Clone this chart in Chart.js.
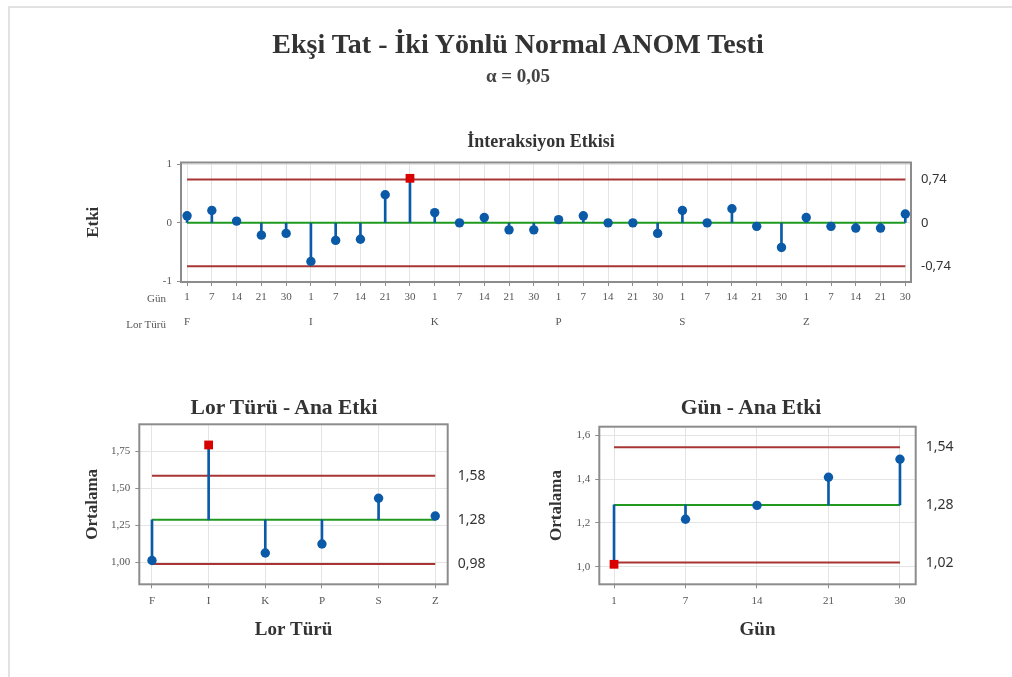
<!DOCTYPE html>
<html><head><meta charset="utf-8">
<script src="https://cdn.jsdelivr.net/npm/chart.js@4"></script>
<style>
html,body{margin:0;padding:0;background:#fff;}
#wrap{position:relative;width:1012px;height:677px;overflow:hidden;font-family:'Liberation Serif',serif;color:#333;}
canvas{position:absolute;left:0;top:0;}
.t{position:absolute;white-space:nowrap;transform:translate(-50%,-50%);line-height:1;}
.r{position:absolute;white-space:nowrap;transform:translate(-100%,-50%);line-height:1;}
#fTop{position:absolute;left:8px;top:6px;right:0;height:0;border-top:2px solid #e2e2e2;}
#fLeft{position:absolute;left:8px;top:6px;bottom:0;width:0;border-left:2px solid #e2e2e2;}
</style></head><body>
<div id="wrap">
<div id="fTop"></div><div id="fLeft"></div>
<canvas id="cInter" width="1012" height="677"></canvas>
<canvas id="cLor" width="1012" height="677"></canvas>
<canvas id="cDay" width="1012" height="677"></canvas>
<div class="t" style="left:518px;top:44px;font-size:28px;font-weight:bold;">Ekşi Tat - İki Yönlü Normal ANOM Testi</div>
<div class="t" style="left:518px;top:75px;font-size:19px;font-weight:bold;color:#444;">α = 0,05</div>
<div class="t" style="left:541px;top:141px;font-size:18px;font-weight:bold;">İnteraksiyon Etkisi</div>
<div class="t" style="left:284px;top:408px;font-size:21.5px;font-weight:bold;">Lor Türü - Ana Etki</div>
<div class="t" style="left:751px;top:408px;font-size:21.5px;font-weight:bold;">Gün - Ana Etki</div>
<div class="r" style="left:166px;top:298px;font-size:11px;color:#555;">Gün</div>
<div class="r" style="left:166px;top:324px;font-size:11px;color:#555;">Lor Türü</div>
</div>
<script>
// ---- data ----
const dayLabels = ['1', '7', '14', '21', '30'];
const lorLabels = ['F', 'I', 'K', 'P', 'S', 'Z'];

const interEffects = [
  0.12, 0.21, 0.03, -0.21, -0.18,
  -0.66, -0.30, -0.28, 0.48, 0.76,
  0.175, 0.00, 0.09, -0.12, -0.12,
  0.055, 0.12, 0.00, 0.00, -0.18,
  0.21, 0.00, 0.24, -0.06, -0.42,
  0.09, -0.06, -0.09, -0.09, 0.15
];
const interLimits = [-0.74, 0, 0.74];
const interLimitLabels = ['-0,74', '0', '0,74'];
const interYTicks = [-1, 0, 1];
const interYTickLabels = ['-1', '0', '1'];

const lorMeans = [1.01, 1.793, 1.061, 1.122, 1.432, 1.312];
const lorLimits = [0.987, 1.286, 1.585];
const lorLimitLabels = ['0,98', '1,28', '1,58'];
const lorYTicks = [1.00, 1.25, 1.50, 1.75];
const lorYTickLabels = ['1,00', '1,25', '1,50', '1,75'];

const dayMeans = [1.012, 1.217, 1.28, 1.408, 1.49];
const dayLimits = [1.02, 1.282, 1.544];
const dayLimitLabels = ['1,02', '1,28', '1,54'];
const dayYTicks = [1.0, 1.2, 1.4, 1.6];
const dayYTickLabels = ['1,0', '1,2', '1,4', '1,6'];

// ---- styles ----
const BLUE = '#0b5aa8', REDPT = '#d90000', LIMIT = '#a83434', GREEN = '#1f9a1f';
const FRAME = '#8c8c8c', GRID = '#e4e4e4';
const SERIF = "'Liberation Serif', serif";
const SANS = "'Noto Sans', sans-serif";
Chart.defaults.font.family = SERIF;
Chart.defaults.color = '#555';

const framePlugin = {
  id: 'frame',
  beforeDatasetsDraw(chart) {
    const {ctx, chartArea: a} = chart;
    ctx.save();
    ctx.strokeStyle = FRAME; ctx.lineWidth = 2;
    ctx.strokeRect(a.left, a.top, a.right - a.left, a.bottom - a.top);
    ctx.restore();
  }
};

function anomDatasets(values, limits) {
  const [lcl, cl, ucl] = limits;
  const n = values.length;
  const isOut = v => v > ucl || v < lcl;
  const hline = (y, color, order) => ({
    type: 'line', data: [{x: 0, y: y}, {x: n - 1, y: y}],
    borderColor: color, borderWidth: 2, pointRadius: 0, order: order, clip: false
  });
  return [
    hline(ucl, LIMIT, 4), hline(lcl, LIMIT, 4), hline(cl, GREEN, 3),
    {type: 'bar', data: values.map((v, i) => ({x: i, y: [cl, v]})),
     backgroundColor: BLUE, barThickness: 2, borderWidth: 0, order: 2, grouped: false},
    {type: 'scatter', data: values.map((v, i) => ({x: i, y: v})), order: 0, clip: false,
     pointStyle: c => isOut(values[c.dataIndex]) ? 'rect' : 'circle',
     pointRadius: c => isOut(values[c.dataIndex]) ? 6.2 : 4.7,
     pointHoverRadius: c => isOut(values[c.dataIndex]) ? 6.2 : 4.7,
     backgroundColor: c => isOut(values[c.dataIndex]) ? REDPT : BLUE,
     borderWidth: 0}
  ];
}

function fixed(prop, v) { return s => { s[prop] = v; }; }

function yLeft(min, max, ticks, labels, title, width) {
  return {
    position: 'left', min: min, max: max,
    afterBuildTicks: s => { s.ticks = ticks.map(v => ({value: v})); },
    afterFit: fixed('width', width),
    ticks: {callback: (v, i) => labels[i], font: {size: 11}, padding: 5, color: '#555'},
    grid: {color: GRID, tickColor: FRAME, tickLength: 4},
    border: {display: false},
    title: {display: true, text: title, font: {size: 17, weight: 'bold', lineHeight: 1.2},
            color: '#333', padding: 0}
  };
}
function yRight(min, max, limits, labels, width, size) {
  return {
    position: 'right', min: min, max: max,
    afterBuildTicks: s => { s.ticks = limits.map(v => ({value: v})); },
    afterFit: fixed('width', width),
    ticks: {callback: (v, i) => labels[i], font: {family: SANS, size: size}, padding: 10, color: '#333'},
    grid: {drawOnChartArea: false, drawTicks: false},
    border: {display: false}
  };
}
function xAxis(min, max, count, labelFn, height, title, pad) {
  const cfg = {
    type: 'linear', position: 'bottom', min: min, max: max, offset: false,
    afterBuildTicks: s => { s.ticks = Array.from({length: count}, (_, i) => ({value: i})); },
    afterFit: fixed('height', height),
    ticks: {callback: (v, i) => labelFn(i), font: {size: 11}, padding: pad, color: '#555',
            autoSkip: false, maxRotation: 0, minRotation: 0},
    grid: {color: GRID, tickColor: FRAME, tickLength: 4, offset: false},
    border: {display: false}
  };
  if (title) cfg.title = {display: true, text: title, font: {size: 19, weight: 'bold', lineHeight: 1.2},
                          color: '#333', padding: 0};
  return cfg;
}
const baseOpts = {
  responsive: false, animation: false, events: [],
  plugins: {legend: {display: false}, tooltip: {enabled: false}, title: {display: false}}
};

// ---- Interaction chart ----
const nInter = interEffects.length;
const interX = xAxis(-0.245, 29.23, nInter, i => dayLabels[i % dayLabels.length], 28, null, 5);
interX.weight = 0;
const interX2 = {
  type: 'linear', position: 'bottom', min: -0.245, max: 29.23, weight: 1, offset: false,
  afterBuildTicks: s => { s.ticks = lorLabels.map((_, k) => ({value: k * dayLabels.length})); },
  afterFit: fixed('height', 30),
  ticks: {callback: (v, i) => lorLabels[i], font: {size: 11}, padding: 6, color: '#555',
          autoSkip: false, maxRotation: 0},
  grid: {display: false, drawTicks: false, offset: false}, border: {display: false}
};
new Chart(document.getElementById('cInter'), {
  type: 'scatter',
  data: {datasets: anomDatasets(interEffects, interLimits)},
  options: Object.assign({}, baseOpts, {
    layout: {padding: {left: 83.8, right: 41, top: 162.5, bottom: 337}},
    scales: {
      x: interX, x2: interX2,
      y: yLeft(-1.01, 1.03, interYTicks, interYTickLabels, 'Etki', 97.2),
      yR: yRight(-1.01, 1.03, interLimits, interLimitLabels, 60, 13)
    }
  }),
  plugins: [framePlugin]
});

// ---- Lor Türü main effect ----
new Chart(document.getElementById('cLor'), {
  type: 'scatter',
  data: {datasets: anomDatasets(lorMeans, lorLimits)},
  options: Object.assign({}, baseOpts, {
    layout: {padding: {left: 82.8, right: 504.3, top: 424.3, bottom: 35.8}},
    scales: {
      x: xAxis(-0.224, 5.22, lorLabels.length, i => lorLabels[i], 56.9, 'Lor Türü', 6),
      y: yLeft(0.849, 1.933, lorYTicks, lorYTickLabels, 'Ortalama', 56.5),
      yR: yRight(0.849, 1.933, lorLimits, lorLimitLabels, 60, 14)
    }
  }),
  plugins: [framePlugin]
});

// ---- Gün main effect ----
new Chart(document.getElementById('cDay'), {
  type: 'scatter',
  data: {datasets: anomDatasets(dayMeans, dayLimits)},
  options: Object.assign({}, baseOpts, {
    layout: {padding: {left: 546.8, right: 36.3, top: 426.7, bottom: 35.8}},
    scales: {
      x: xAxis(-0.206, 4.22, dayLabels.length, i => dayLabels[i], 56.9, 'Gün', 6),
      y: yLeft(0.921, 1.638, dayYTicks, dayYTickLabels, 'Ortalama', 52.5),
      yR: yRight(0.921, 1.638, dayLimits, dayLimitLabels, 60, 14)
    }
  }),
  plugins: [framePlugin]
});
</script>
</body></html>
